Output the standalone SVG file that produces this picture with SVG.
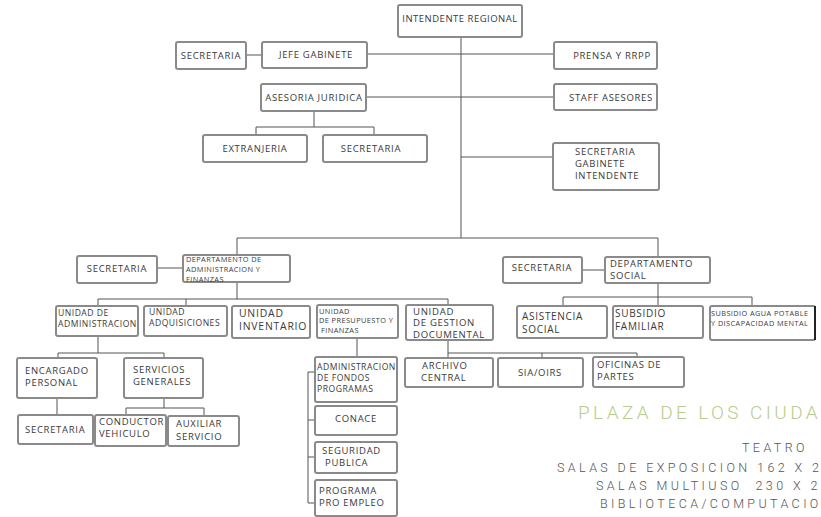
<svg xmlns="http://www.w3.org/2000/svg" width="821" height="517" viewBox="0 0 821 517">
<style>
.b{fill:#fff;stroke:#8a8a8a;stroke-width:2}
.t{font-family:"Open Sans","Liberation Sans",sans-serif;font-size:9.5px;fill:#3a3a3a;letter-spacing:0.7px}
.s{font-size:7.4px;letter-spacing:0.4px}
.m{font-size:8.6px;letter-spacing:0.5px}
.l{font-size:10px;letter-spacing:0.7px}
.c{fill:none;stroke:#555;stroke-width:1}
.g{font-family:Roboto,"DejaVu Sans",sans-serif;font-weight:300;fill:#555;font-size:12.5px;letter-spacing:3.4px}
</style>
<rect width="821" height="517" fill="#fff"/>
<g id="connectors" class="c">
<path d="M461,37V238"/>
<path d="M367,54H554"/>
<path d="M246,55H262"/>
<path d="M366,97H554"/>
<path d="M314,111V127M256,135V127H374V135"/>
<path d="M461,157H553"/>
<path d="M237,255V238H658V257"/>
<path d="M157,268H183"/>
<path d="M237,282V299M98,306V299H448V305M186,299V306"/>
<path d="M582,270H605"/>
<path d="M658,283V306M563,306V297H752V306"/>
<path d="M448,340V353H637V357M542,353V358M448,353V358"/>
<path d="M98,336V353M58,358V353H164V358"/>
<path d="M57,398V415"/>
<path d="M164,398V408M126,415V408H204V416"/>
<path d="M357,338V357"/>
<path d="M315,372H308V503H315M308,420H315M308,457H315"/>
</g>
<g id="intendente"><rect class="b" x="398" y="5" width="124" height="32" rx="2"/><text class="t" x="460" y="22" text-anchor="middle" style="letter-spacing:0.5px">INTENDENTE REGIONAL</text></g>
<g id="secretaria1"><rect class="b" x="176" y="42" width="70" height="27" rx="2"/><text class="t" x="211" y="59" text-anchor="middle">SECRETARIA</text></g>
<g id="jefe"><rect class="b" x="262" y="42" width="105" height="26" rx="2"/><text class="t" x="316" y="58" text-anchor="middle">JEFE GABINETE</text></g>
<g id="prensa"><rect class="b" x="554" y="42" width="103" height="27" rx="2"/><text class="t" x="612" y="59" text-anchor="middle">PRENSA Y RRPP</text></g>
<g id="asesoria"><rect class="b" x="261" y="84" width="105" height="27" rx="2"/><text class="t" x="314" y="101" text-anchor="middle">ASESORIA JURIDICA</text></g>
<g id="staff"><rect class="b" x="554" y="84" width="103" height="26" rx="2"/><text class="t" x="611" y="101" text-anchor="middle">STAFF ASESORES</text></g>
<g id="extranjeria"><rect class="b" x="203" y="135" width="104" height="27" rx="2"/><text class="t" x="255" y="152" text-anchor="middle">EXTRANJERIA</text></g>
<g id="secretaria2"><rect class="b" x="323" y="135" width="104" height="27" rx="2"/><text class="t" x="371" y="152" text-anchor="middle">SECRETARIA</text></g>
<g id="sgi"><rect class="b" x="553" y="143" width="106" height="47" rx="2"/><text class="t" x="575" y="155">SECRETARIA</text><text class="t" x="575" y="167">GABINETE</text><text class="t" x="575" y="179">INTENDENTE</text></g>
<g id="dept-admin"><rect class="b" x="183" y="255" width="107" height="27" rx="2"/><text class="t s" x="186" y="262">DEPARTAMENTO DE</text><text class="t s" x="186" y="272">ADMINISTRACION Y</text><text class="t s" x="186" y="282">FINANZAS</text></g>
<g id="sec-left"><rect class="b" x="77" y="256" width="80" height="27" rx="2"/><text class="t" x="117" y="272" text-anchor="middle">SECRETARIA</text></g>
<g id="dept-social"><rect class="b" x="605" y="257" width="105" height="26" rx="2"/><text class="t" x="610" y="267">DEPARTAMENTO</text><text class="t" x="610" y="279">SOCIAL</text></g>
<g id="sec-right"><rect class="b" x="503" y="257" width="79" height="26" rx="2"/><text class="t" x="542" y="271" text-anchor="middle">SECRETARIA</text></g>
<g id="u-admin"><rect class="b" x="56" y="306" width="82" height="30" rx="2"/><text class="t m" x="58" y="316">UNIDAD DE</text><text class="t m" x="58" y="327">ADMINISTRACION</text></g>
<g id="u-adq"><rect class="b" x="144" y="306" width="83" height="30" rx="2"/><text class="t m" x="149" y="315">UNIDAD</text><text class="t m" x="149" y="326">ADQUISICIONES</text></g>
<g id="u-inv"><rect class="b" x="232" y="306" width="78" height="32" rx="2"/><text class="t" x="239" y="316.5" style="font-size:10.4px;letter-spacing:0.8px">UNIDAD</text><text class="t" x="239" y="329.5" style="font-size:10.4px;letter-spacing:0.8px">INVENTARIO</text></g>
<g id="u-pres"><rect class="b" x="317" y="305" width="81" height="33" rx="2"/><text class="t s" x="319" y="314">UNIDAD</text><text class="t s" x="319" y="323">DE PRESUPUESTO Y</text><text class="t s" x="321" y="333">FINANZAS</text></g>
<g id="u-gest"><rect class="b" x="406" y="305" width="87" height="35" rx="2"/><text class="t" x="413" y="314.5" style="font-size:9.6px">UNIDAD</text><text class="t" x="413" y="326" style="font-size:9.6px">DE GESTION</text><text class="t" x="413" y="337.5" style="font-size:9.6px">DOCUMENTAL</text></g>
<g id="asistencia"><rect class="b" x="517" y="306" width="90" height="32" rx="2"/><text class="t l" x="522" y="319.5">ASISTENCIA</text><text class="t l" x="522" y="332.5">SOCIAL</text></g>
<g id="subsidio-familiar"><rect class="b" x="613" y="306" width="90" height="32" rx="2"/><text class="t l" x="615" y="317">SUBSIDIO</text><text class="t l" x="615" y="330">FAMILIAR</text></g>
<g id="subsidio-agua"><rect class="b" x="710" y="306" width="105" height="34" rx="2"/><path d="M815,306V340" stroke="#222" stroke-width="2"/><text class="t" x="711" y="316" style="font-size:7.3px;letter-spacing:0.45px">SUBSIDIO AGUA POTABLE</text><text class="t" x="711" y="326" style="font-size:7.3px;letter-spacing:0.45px">Y DISCAPACIDAD MENTAL</text></g>
<g id="encargado"><rect class="b" x="17" y="358" width="80" height="40" rx="2"/><text class="t" x="25" y="374">ENCARGADO</text><text class="t" x="25" y="386">PERSONAL</text></g>
<g id="servicios"><rect class="b" x="124" y="358" width="79" height="40" rx="2"/><text class="t" x="133" y="373">SERVICIOS</text><text class="t" x="133" y="385">GENERALES</text></g>
<g id="sec-bottom"><rect class="b" x="18" y="415" width="75" height="29" rx="2"/><text class="t" x="25" y="433">SECRETARIA</text></g>
<g id="conductor"><rect class="b" x="95" y="415" width="71" height="31" rx="2"/><text class="t" x="99" y="425">CONDUCTOR</text><text class="t" x="99" y="437">VEHICULO</text></g>
<g id="auxiliar"><rect class="b" x="168" y="416" width="71" height="30" rx="2"/><text class="t" x="176" y="427">AUXILIAR</text><text class="t" x="176" y="440">SERVICIO</text></g>
<g id="adm-fondos"><rect class="b" x="315" y="357" width="82" height="45" rx="2"/><text class="t m" x="317" y="370">ADMINISTRACION</text><text class="t m" x="317" y="381">DE FONDOS</text><text class="t m" x="317" y="392">PROGRAMAS</text></g>
<g id="conace"><rect class="b" x="315" y="406" width="82" height="29" rx="2"/><text class="t" x="356" y="422" text-anchor="middle">CONACE</text></g>
<g id="seguridad"><rect class="b" x="315" y="442" width="82" height="31" rx="2"/><text class="t" x="322" y="454">SEGURIDAD</text><text class="t" x="325" y="466">PUBLICA</text></g>
<g id="programa"><rect class="b" x="315" y="480" width="82" height="36" rx="2"/><text class="t" x="319" y="494">PROGRAMA</text><text class="t" x="319" y="506">PRO EMPLEO</text></g>
<g id="archivo"><rect class="b" x="405" y="358" width="88" height="29" rx="2"/><text class="t" x="422" y="369">ARCHIVO</text><text class="t" x="421" y="381">CENTRAL</text></g>
<g id="sia"><rect class="b" x="498" y="358" width="85" height="29" rx="2"/><text class="t" x="540" y="376" text-anchor="middle">SIA/OIRS</text></g>
<g id="oficinas"><rect class="b" x="593" y="357" width="91" height="30" rx="2"/><text class="t" x="597" y="368">OFICINAS DE</text><text class="t" x="597" y="380">PARTES</text></g>
<g id="venue-text">
<text class="g" x="578" y="419" style="font-size:19px;letter-spacing:3.4px;fill:#b9cc8c">PLAZA DE LOS CIUDA</text>
<text class="g" x="742" y="452">TEATRO</text>
<text class="g" x="557" y="472">SALAS DE EXPOSICION 162 X 2</text>
<text class="g" x="596" y="490" xml:space="preserve">SALAS MULTIUSO  230 X 2</text>
<text class="g" x="600" y="508">BIBLIOTECA/COMPUTACIO</text>
</g>
</svg>
